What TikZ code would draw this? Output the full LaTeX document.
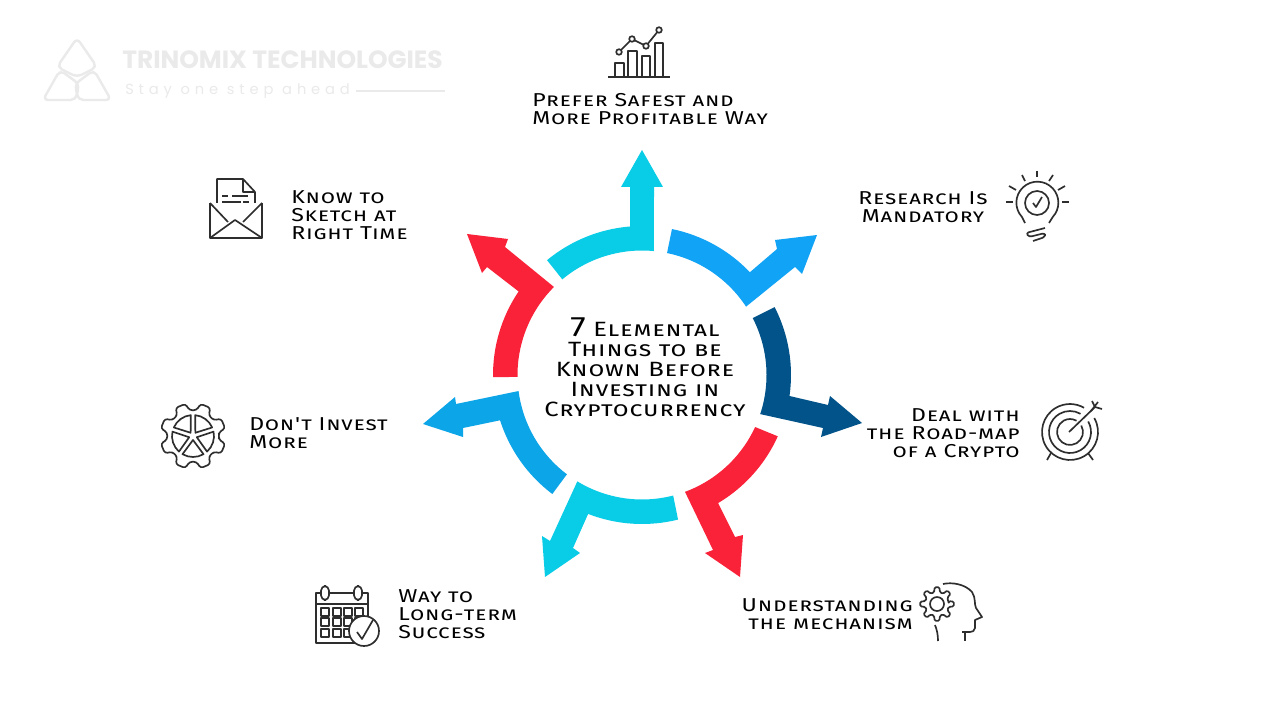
\documentclass[tikz,border=0pt]{standalone}
\usepackage{fontspec}
\usepackage{xcolor}
\usepackage{tikz}
\usetikzlibrary{positioning,calc}
\newfontfamily\techfont[FakeStretch=1.24,Letters=SmallCaps,LetterSpace=4]{Fira Sans}
\newfontfamily\markfont{Poppins}
\newfontfamily\tagfont[LetterSpace=33]{Poppins}
\definecolor{ringcyan}{HTML}{09CDE6}
\definecolor{ringsky}{HTML}{11A3F5}
\definecolor{ringnavy}{HTML}{02538A}
\definecolor{ringred}{HTML}{FA2239}
\definecolor{ringblue}{HTML}{0CA5E8}
\definecolor{iconink}{HTML}{2E2E2E}
\definecolor{markgrey}{HTML}{EAEAEA}
% colour, outer arc from/to, inner arc from/to, points of the arrow
\newcommand{\ringarrow}[6]{\fill[#1] (#2:149) arc[start angle=#2,end angle=#3,radius=149] -- #6 -- (#4:124.5) arc[start angle=#4,end angle=#5,radius=124.5] -- cycle;}
\begin{document}
\begin{tikzpicture}[
    x=0.75pt, y=-0.75pt,
    label/.style={font=\techfont\fontsize{14}{13.5}\selectfont, inner sep=0pt, text=black},
    hub/.style={font=\techfont\fontsize{15.5}{15}\selectfont, inner sep=0pt, align=center, text=black},
    icon/.style={draw=iconink, line width=1.25pt, line join=round},
    logo/.style={draw=markgrey, line width=1.8pt, rounded corners=4pt}
  ]
  \useasboundingbox (0,0) rectangle (1280,720);
  \fill[white] (0,0) rectangle (1280,720);

  % watermark
  \draw[logo] (77,38) -- (97,67) -- (77,77) -- (57,67) -- cycle;
  \draw[logo] (60,70) -- (79,84) -- (76,100) -- (43,100) -- cycle;
  \draw[logo] (94,70) -- (111,100) -- (78,100) -- (75,84) -- cycle;
  \node[anchor=west, inner sep=0pt, text=markgrey, font=\markfont\bfseries\fontsize{18.7}{20}\selectfont] (markname) at (122,60) {TRINOMIX TECHNOLOGIES};
  \node[anchor=west, inner sep=0pt, text=markgrey, font=\tagfont\fontsize{11}{12}\selectfont] (marktag) at (125,91) {Stay one step ahead};
  \coordinate (markend) at (445,91);
  \draw[markgrey, line width=1pt] (356,91) -- (markend);

  % ring of arrows
  \begin{scope}[shift={(642,375)}, yscale=-1]
    \ringarrow{ringcyan}{129.6}{94.6}{84.5}{129.8}{(-12,188) -- (-21,188) -- (0,225) -- (21,188) -- (12,188)}
    \ringarrow{ringsky}{78.4}{43.6}{33.3}{78.4}{(135,126) -- (133,135) -- (175,140) -- (160,101) -- (153,108)}
    \ringarrow{ringnavy}{27.1}{-8.1}{-18.3}{27.2}{(186,-30) -- (188,-21) -- (220,-48) -- (179,-62) -- (181,-53)}
    \ringarrow{ringred}{-24.3}{-59.3}{-69.8}{-24.7}{(93,-162) -- (101,-160) -- (98,-202) -- (63,-178) -- (71,-175)}
    \ringarrow{ringcyan}{-76}{-111.2}{-121.3}{-75.5}{(-69,-173) -- (-62,-178) -- (-97,-202) -- (-100,-161) -- (-92,-166)}
    \ringarrow{ringblue}{-127}{-162.3}{-172.6}{-127.1}{(-179,-53) -- (-179,-62) -- (-219,-49) -- (-187,-22) -- (-186,-29)}
    \ringarrow{ringred}{180.8}{145.9}{135}{180.9}{(-155,108) -- (-160,102) -- (-175,141) -- (-134,136) -- (-137,128)}
  \end{scope}

  % centre
  \node[hub] (title) at (645,367) {{\fontsize{21}{15}\selectfont 7} Elemental\\Things to be\\Known Before\\Investing in\\Cryptocurrency};

  % labels
  \node[label, anchor=west, align=left] (safest) at (532,109) {Prefer Safest and\\More Profitable Way};
  \node[label, align=center] (research) at (923,207) {Research Is\\Mandatory};
  \node[label, anchor=east, align=right] (roadmap) at (1020,433) {Deal with\\the Road-map\\of a Crypto};
  \node[label, anchor=east, align=right] (mechanism) at (913,614) {Understanding\\the mechanism};
  \node[label, anchor=west, align=left] (success) at (398,614) {Way to\\Long-term\\Success};
  \node[label, anchor=west, align=left] (invest) at (249,433) {Don't Invest\\More};
  \node[label, anchor=west, align=left] (sketch) at (291,215) {Know to\\Sketch at\\Right Time};

  % chart
  \draw[icon] (608,77) -- (670,77);
  \draw[icon] (615,77) |- (624,63) -- (624,77);
  \draw[icon] (628,77) |- (637,51) -- (637,77);
  \draw[icon] (642,77) |- (650,56) -- (650,77);
  \draw[icon] (655,77) |- (663,43) -- (663,77);
  \draw[icon] (619,52) -- (632,39) -- (646,46) -- (659,30);
  \foreach \px/\py in {619/52,632/39,646/46,659/30}
    \draw[icon, fill=white] (\px,\py) circle (2.8);

  % bulb
  \draw[icon] (1025,223) -- (1022,217) arc[start angle=137,end angle=403,radius=21] -- (1049,223);
  \draw[icon] (1037,203) circle (12);
  \draw[icon] (1033,203) -- (1036,207) -- (1042,197);
  \draw[icon, rounded corners=2pt] (1045,228) -- (1026,233) -- (1029,237) -- (1045,233) -- (1045,237) -- (1033,241);
  \foreach \ax/\ay/\bx/\by in {1037/171/1037/177,1022/175/1025/181,1053/175/1049/181,1009/186/1016/190,1065/186/1058/190,1006/202/1013/202,1062/202/1069/202}
    \draw[icon] (\ax,\ay) -- (\bx,\by);

  % target
  \draw[icon] (1070,432) ++(-30:28) arc[start angle=-30,end angle=300,radius=28];
  \draw[icon] (1070,432) ++(-30:21) arc[start angle=-30,end angle=300,radius=21];
  \draw[icon] (1070,432) ++(-30:13) arc[start angle=-30,end angle=300,radius=13];
  \draw[icon] (1069,432) -- (1095,407) -- (1092,401);
  \draw[icon] (1095,407) -- (1102,409);
  \draw[icon] (1091,411) -- (1098,402);
  \draw[icon] (1047,460) -- (1051,453);
  \draw[icon] (1093,460) -- (1088,453);

  % head with gear
  \begin{scope}[shift={(937,604)}]
    \draw[icon, rounded corners=1pt] (0:12) \foreach \a in {0,45,...,315} {-- (\a-14:12) -- (\a-8:17) -- (\a+8:17) -- (\a+14:12)} -- cycle;
    \draw[icon] (0,0) circle (7);
  \end{scope}
  \draw[icon] (943,584) .. controls (952,582) and (965,584) .. (972,592) .. controls (976,598) and (974,604) .. (976,608) -- (982,617) -- (975,620) -- (975,628) .. controls (975,631) and (972,632) .. (970,632) -- (962,632);
  \draw[icon] (965,632) -- (965,641);
  \draw[icon] (935,625) .. controls (937,630) and (938,635) .. (938,641);

  % calendar
  \draw[icon] (321,593) -- (316,593) -- (316,643) -- (368,643) -- (368,593) -- (363,593);
  \draw[icon] (329,593) -- (354,593);
  \draw[icon] (316,604) -- (368,604);
  \draw[icon, rounded corners=3.5pt] (321,586) rectangle (329,600);
  \draw[icon, rounded corners=3.5pt] (354,586) rectangle (362,600);
  \foreach \px in {321,333,344,355}
    \foreach \py in {608,618,629}
      \draw[icon] (\px,\py) rectangle ++(8,8);
  \draw[icon, fill=white] (364,631) circle (15);
  \draw[icon] (357,632) -- (362,639) -- (373,620);

  % gear wheel
  \begin{scope}[shift={(193,436)}]
    \draw[icon, rounded corners=2pt] (0:26) \foreach \a in {22.5,67.5,...,337.5} {-- (\a-15:26) -- (\a-9:33) -- (\a+9:33) -- (\a+15:26)} -- cycle;
    \foreach \a in {270,342,54,126,198}
      \draw[icon] (\a+36:4) -- (\a+6:21) arc[start angle=\a+6,end angle=\a+66,radius=21] -- cycle;
  \end{scope}

  % envelope
  \draw[icon] (217,203) -- (217,179) -- (243,179) -- (255,192) -- (255,203);
  \draw[icon] (243,179) -- (243,192) -- (255,192);
  \draw[icon] (222,196) -- (228,196);
  \draw[icon] (232,196) -- (248,196);
  \draw[icon] (222,202) -- (241,202);
  \draw[icon] (243,202) -- (249,202);
  \draw[icon] (210,203) -- (210,238) -- (262,238) -- (262,203);
  \draw[icon] (210,203) -- (228,222);
  \draw[icon] (262,203) -- (243,222);
  \draw[icon] (210,238) -- (235,220) -- (262,238);
\end{tikzpicture}
\end{document}
